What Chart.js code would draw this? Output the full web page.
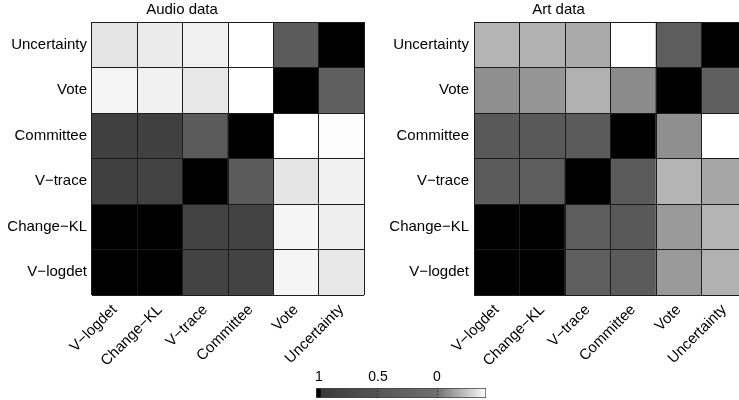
<!DOCTYPE html>
<html>
<head>
<meta charset="utf-8">
<script src="https://cdn.jsdelivr.net/npm/chart.js@4/dist/chart.umd.min.js"></script>
<style>
  html, body { margin: 0; padding: 0; background: #fff; overflow: hidden; width: 739px; height: 400px; }
  canvas { position: absolute; }
  #audio { left: 0; top: 0; }
  #art { left: 370px; top: 0; }
  #bar { left: 300px; top: 358px; }
</style>
</head>
<body>
<canvas id="audio" width="370" height="400"></canvas>
<canvas id="art" width="377" height="400"></canvas>
<canvas id="bar" width="200" height="42"></canvas>
<script>
// Methods, listed top to bottom (rows) and left to right (columns)
const rowLabels = ['Uncertainty', 'Vote', 'Committee', 'V\u2212trace', 'Change\u2212KL', 'V\u2212logdet'];
const colLabels = ['V\u2212logdet', 'Change\u2212KL', 'V\u2212trace', 'Committee', 'Vote', 'Uncertainty'];

// Correlation between methods, audio data set
const audioValues = [
  [-0.34, -0.36, -0.38, -0.42,  0.41,  1.00],
  [-0.39, -0.38, -0.35, -0.42,  1.00,  0.33],
  [ 0.88,  0.88,  0.41,  1.00, -0.42, -0.41],
  [ 0.88,  0.85,  1.00,  0.41, -0.34, -0.38],
  [ 1.00,  1.00,  0.85,  0.85, -0.39, -0.37],
  [ 1.00,  1.00,  0.82,  0.82, -0.39, -0.35]
];

// Correlation between methods, art data set
const artValues = [
  [-0.20, -0.19, -0.17, -0.42,  0.37,  1.00],
  [-0.09, -0.11, -0.19, -0.08,  1.00,  0.33],
  [ 0.44,  0.44,  0.41,  1.00, -0.09, -0.42],
  [ 0.41,  0.37,  1.00,  0.41, -0.20, -0.16],
  [ 1.00,  1.00,  0.37,  0.44, -0.12, -0.20],
  [ 1.00,  1.00,  0.33,  0.41, -0.12, -0.19]
];

// Colour bar
const colorbarTicks = [1, 0.5, 0];
const colorbarRange = [-0.415, 1.025];

// Grey colour map: value -> grey level
const grayStops = [[1.03, 0], [0.99, 0], [0.98, 58], [0.5, 86], [0, 112], [-0.42, 255]];

function grayLevel(v) {
  if (v >= grayStops[0][0]) return grayStops[0][1];
  for (let i = 1; i < grayStops.length; i++) {
    const [v0, g0] = grayStops[i - 1];
    const [v1, g1] = grayStops[i];
    if (v >= v1) return g0 + (g1 - g0) * (v0 - v) / (v0 - v1);
  }
  return grayStops[grayStops.length - 1][1];
}
function grayFor(v) {
  const g = Math.round(Math.max(0, Math.min(255, grayLevel(v))));
  return `rgb(${g},${g},${g})`;
}

Chart.defaults.font.family = "'Liberation Sans', Arial, Helvetica, sans-serif";
Chart.defaults.color = '#000';

const lineColor = '#1c1c1c';
const halfSteps = [];
for (let k = -1; k <= rowLabels.length * 2 - 1; k++) halfSteps.push(k / 2);

function heatmap(id, title, values, yAxisWidth, padRight) {
  const datasets = rowLabels.map((name, r) => ({
    label: name,
    data: colLabels.map(() => [r - 0.5, r + 0.5]),
    backgroundColor: values[r].map(grayFor),
    borderWidth: 0,
    barPercentage: 1,
    categoryPercentage: 1,
    grouped: false
  }));
  return new Chart(document.getElementById(id), {
    type: 'bar',
    data: { labels: colLabels, datasets },
    options: {
      responsive: false,
      animation: false,
      layout: { padding: { left: 0, right: padRight, top: 0, bottom: 0 } },
      plugins: {
        legend: { display: false },
        tooltip: { enabled: false },
        title: {
          display: true,
          text: title,
          color: '#000',
          font: { size: 15, weight: 'normal' },
          padding: { top: 1, bottom: 3 }
        }
      },
      scales: {
        x: {
          type: 'category',
          offset: true,
          grid: { display: true, offset: true, drawTicks: false, color: lineColor, lineWidth: 1, z: 1 },
          border: { display: false },
          ticks: { minRotation: 45, maxRotation: 45, autoSkip: false, padding: 6, font: { size: 15 } },
          afterFit: (s) => { s.height = 105; }
        },
        y: {
          type: 'linear',
          reverse: true,
          min: -0.5,
          max: rowLabels.length - 0.5,
          grid: {
            display: true,
            drawTicks: false,
            z: 1,
            lineWidth: 1,
            color: (ctx) => (ctx.tick && Number.isInteger(ctx.tick.value)) ? 'rgba(0,0,0,0)' : lineColor
          },
          border: { display: false },
          afterBuildTicks: (s) => { s.ticks = halfSteps.map(v => ({ value: v })); },
          ticks: {
            autoSkip: false,
            padding: 5,
            font: { size: 15 },
            callback: (v) => Number.isInteger(v) ? rowLabels[v] : ''
          },
          afterFit: (s) => { s.width = yAxisWidth; }
        }
      }
    }
  });
}

heatmap('audio', 'Audio data', audioValues, 92, 6);
heatmap('art', 'Art data', artValues, 104, 0);

// Colour bar with the same grey map
new Chart(document.getElementById('bar'), {
  type: 'bar',
  data: {
    labels: [''],
    datasets: [{
      data: [colorbarRange],
      borderWidth: 1,
      borderColor: '#444',
      borderSkipped: false,
      barPercentage: 1,
      categoryPercentage: 1,
      backgroundColor: (ctx) => {
        const chart = ctx.chart;
        const area = chart.chartArea;
        if (!area) return '#888';
        const xs = chart.scales.x;
        const grad = chart.ctx.createLinearGradient(area.left, 0, area.right, 0);
        grayStops.forEach(([v]) => {
          const p = (xs.getPixelForValue(v) - area.left) / (area.right - area.left);
          if (p >= 0 && p <= 1) grad.addColorStop(p, grayFor(v));
        });
        grad.addColorStop(0, grayFor(xs.getValueForPixel(area.left)));
        grad.addColorStop(1, grayFor(xs.getValueForPixel(area.right)));
        return grad;
      }
    }]
  },
  options: {
    indexAxis: 'y',
    responsive: false,
    animation: false,
    layout: { padding: { left: 16, right: 14, top: 0, bottom: 2 } },
    plugins: { legend: { display: false }, tooltip: { enabled: false }, title: { display: false } },
    scales: {
      x: {
        type: 'linear',
        position: 'top',
        reverse: true,
        min: colorbarRange[0],
        max: colorbarRange[1],
        afterBuildTicks: (s) => { s.ticks = colorbarTicks.map(v => ({ value: v })); },
        grid: {
          display: true,
          drawTicks: false,
          z: 1,
          color: (ctx) => (ctx.tick && ctx.tick.value === 1) ? 'rgba(0,0,0,0)' : '#222'
        },
        border: { display: false, dash: [1, 2] },
        ticks: { padding: 2, font: { size: 14 }, callback: (v) => String(v) },
        afterFit: (s) => { s.height = 30; }
      },
      y: { display: false }
    }
  }
});
</script>
</body>
</html>
